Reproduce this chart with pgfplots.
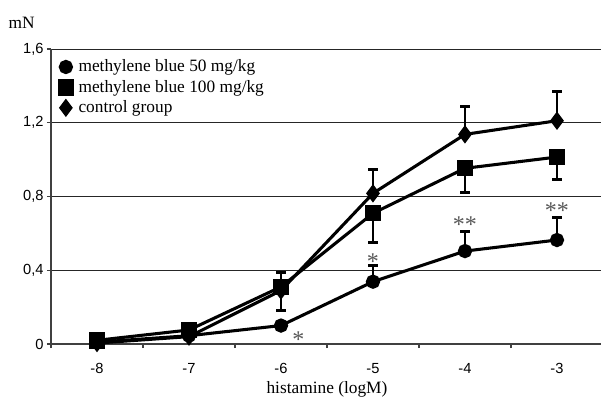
\documentclass[border=0pt]{standalone}
\usepackage{pgfplots}
\pgfplotsset{compat=1.18}
\usepackage{pgfplotstable}
\usepackage{fontspec}
\setmainfont{Liberation Serif}
\newfontfamily\arial{Liberation Sans}

% x  y  err
\pgfplotstableread{
x y e
-8 0.010 0
-7 0.045 0
-6 0.100 0
-5 0.338 0.090
-4 0.504 0.105
-3 0.564 0.120
}\mbfifty
\pgfplotstableread{
x y e
-8 0.020 0
-7 0.076 0
-6 0.310 0.130
-5 0.709 0.160
-4 0.953 0.130
-3 1.014 0.120
}\mbhundred
\pgfplotstableread{
x y e
-8 0.005 0
-7 0.040 0
-6 0.290 0.100
-5 0.817 0.130
-4 1.137 0.150
-3 1.211 0.157
}\control

\begin{document}
\begin{tikzpicture}
\begin{axis}[
    scale only axis, width=414pt, height=221.25pt,
    at={(0,0)}, anchor=south west,
    xmin=-8.5, xmax=-2.5, ymin=0, ymax=1.6,
    axis x line=bottom, axis y line=left,
    axis line style={-, line width=0.8pt, black!75},
    xtick={-8,...,-3}, xticklabels={-8,-7,-6,-5,-4,-3},
    major x tick style={draw=none},
    minor xtick={-8.5,-7.5,...,-2.5},
    minor x tick style={line width=0.8pt, black!75},
    minor tick length=3pt,
    ytick={0,0.4,0.8,1.2,1.6},
    yticklabels={0,{0,4},{0,8},{1,2},{1,6}},
    major tick length=3pt, tick align=outside,
    ytick style={line width=0.8pt, black!75},
    ymajorgrids, grid style={line width=0.6pt, black!85},
    ticklabel style={font=\arial\fontsize{11}{13}\selectfont},
    xticklabel style={yshift=-8pt},
    yticklabel style={xshift=1pt},
    xlabel={histamine (logM)},
    xlabel style={font=\fontsize{13}{15}\selectfont, at={(0.5,0)}, anchor=base, yshift=-37pt},
    legend style={draw=none, fill=none, at={(0.012,0.975)}, anchor=north west,
        font=\fontsize{13}{15}\selectfont, row sep=1.8pt, inner sep=1pt,
        nodes={inner sep=1.5pt},
        /tikz/every odd column/.append style={column sep=3pt}},
    legend cell align=left,
    legend image code/.code={\draw[#1, only marks] plot coordinates {(0.16cm,0cm)};},
    every axis plot/.append style={line width=2.3pt, black},
    error bars/y explicit,
    error bars/error bar style={line width=2pt, black},
    error bars/error mark options={rotate=90, mark size=3.6pt, line width=2.2pt, black},
    clip=false,
]
\addplot[mark=*, mark size=4.2pt, mark options={solid},
    error bars/.cd, y dir=plus]
    table[x=x, y=y, y error=e] {\mbfifty};
\addlegendentry{methylene blue 50 mg/kg}
\addplot[mark=square*, mark size=5pt, mark options={solid},
    error bars/.cd, y dir=minus]
    table[x=x, y=y, y error=e] {\mbhundred};
\addlegendentry{methylene blue 100 mg/kg}
\addplot[mark=diamond*, mark size=5pt, mark options={solid},
    error bars/.cd, y dir=plus]
    table[x=x, y=y, y error=e] {\control};
\addlegendentry{control group}

\begin{scope}[every node/.style={font=\fontsize{18}{20}\selectfont, text=black!65, inner sep=0pt}]
\node at (axis cs:-5.81,0.025) {*};
\node at (axis cs:-5,0.445) {*};
\node at (axis cs:-4,0.645) {**};
\node at (axis cs:-3,0.725) {**};
\end{scope}
\node[font=\fontsize{13}{15}\selectfont, anchor=base] at (rel axis cs:0,1) [xshift=-22pt, yshift=15.5pt] {mN};
\end{axis}
\pgfresetboundingbox
\path[use as bounding box] (-38.25pt,-42pt) rectangle (412.5pt,258pt);
\end{tikzpicture}
\end{document}
